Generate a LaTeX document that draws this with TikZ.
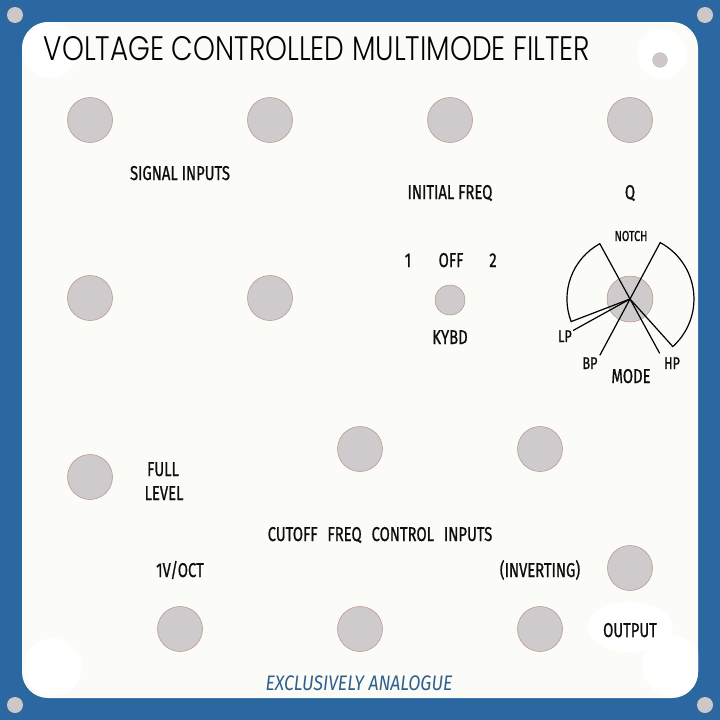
\documentclass[tikz,border=0pt]{standalone}
\usepackage{fontspec}
\newfontfamily\titlefont{Poppins Light}[FakeStretch=0.82]
\newfontfamily\lblfont{Fira Sans}[FakeStretch=0.74,FakeBold=0.8]
\newfontfamily\brandfont{Fira Sans}[FakeStretch=0.84]
\definecolor{panelblue}{HTML}{2B67A0}
\definecolor{panelbg}{HTML}{FBFCF7}
\definecolor{holegrey}{HTML}{CFCACB}
\definecolor{holeedge}{HTML}{B88E90}
\definecolor{screwgrey}{HTML}{CDC7C8}
\definecolor{brandblue}{HTML}{2F5F8C}
\begin{document}
\begin{tikzpicture}[x=1pt,y=-1pt,
  hole/.style={circle,fill=holegrey,draw=holeedge,line width=0.5pt,minimum size=45pt,inner sep=0pt},
  smallhole/.style={hole,minimum size=30pt},
  screw/.style={circle,fill=screwgrey,minimum size=16pt,inner sep=0pt},
  lbl/.style={font={\lblfont\fontsize{20}{24}\selectfont},text=black!95,anchor=base,inner sep=0pt},
  smalllbl/.style={lbl,font={\lblfont\fontsize{17}{20}\selectfont}},
  tinylbl/.style={lbl,font={\lblfont\fontsize{14.5}{18}\selectfont}},
  modeline/.style={draw=black,line width=1.2pt,line join=miter}]
\useasboundingbox (0,0) rectangle (720,720);
\fill[panelblue] (0,0) rectangle (720,720);
\fill[panelbg,rounded corners=26pt] (22,22) rectangle (698,698);
\begin{scope}
  \clip[rounded corners=26pt] (22,22) rectangle (698,698);
  \fill[white] (50,50) circle (28);
  \fill[white] (662,54) circle (25);
  \fill[white] (53,667) circle (29);
  \fill[white] (630,627) ellipse (43 and 25);
  \fill[white] (672,666) circle (30);
\end{scope}
% screws
\node[screw] (s1) at (15,15) {};
\node[screw] (s2) at (705,15) {};
\node[screw] (s3) at (15,705) {};
\node[screw] (s4) at (705,705) {};
\node[circle,fill=screwgrey,draw=holeedge!60,line width=0.3pt,minimum size=15pt,inner sep=0pt] (s5) at (660,60) {};
% title
\node[anchor=base,inner sep=0pt,font={\titlefont\fontsize{34}{40}\selectfont}] (title) at (317,60) {VOLTAGE CONTROLLED MULTIMODE FILTER};
% holes
\node[hole] (h1) at (90,120) {};
\node[hole] (h2) at (270,120) {};
\node[hole] (h3) at (450,120) {};
\node[hole] (h4) at (630,120) {};
\node[hole] (h5) at (90,298) {};
\node[hole] (h6) at (270,298) {};
\node[smallhole] (kb) at (450,300) {};
\node[hole,minimum size=46pt] (mode) at (630,299) {};
\node[hole] (h7) at (360,449) {};
\node[hole] (h8) at (540,449) {};
\node[hole] (h9) at (90,477) {};
\node[hole] (h10) at (630,568) {};
\node[hole] (h11) at (180,629) {};
\node[hole] (h12) at (360,629) {};
\node[hole] (h13) at (540,629) {};
% mode switch graphics
\coordinate (mc) at (630,299);
\coordinate (lw) at (599.8,243.7);
\coordinate (rw) at (660.2,242.6);
\coordinate (bpend) at (599.8,355.4);
\coordinate (hpend) at (659.7,353.4);
\coordinate (lpend) at (573.1,330.5);
\draw[modeline] (mc) -- (lw) arc[start angle=-118.6,end angle=-201,radius=63] -- cycle;
\draw[modeline] (mc) -- (rw) arc[start angle=-61.8,end angle=48,radius=64] -- cycle;
\draw[modeline] (mc) -- (bpend);
\draw[modeline] (mc) -- (hpend);
\draw[modeline] (mc) -- (lpend);
% labels
\node[lbl] (sig) at (180,180) {SIGNAL INPUTS};
\node[lbl] (ifreq) at (450,199) {INITIAL FREQ};
\node[lbl] (q) at (630,199) {Q};
\node[tinylbl] (notch) at (631,241) {NOTCH};
\node[lbl] (one) at (408,267) {1};
\node[lbl] (off) at (451,267) {OFF};
\node[lbl] (two) at (493,267) {2};
\node[lbl] (kybd) at (450,344) {KYBD};
\node[smalllbl] (lp) at (565,342) {LP};
\node[smalllbl] (bp) at (590,369) {BP};
\node[smalllbl] (hp) at (672,369) {HP};
\node[lbl] (model) at (631,383) {MODE};
\node[lbl] (full) at (163,476) {FULL};
\node[lbl] (level) at (164,500) {LEVEL};
\node[lbl] (cutoff) at (380,541) {CUTOFF\hspace{6pt} FREQ\hspace{6pt} CONTROL\hspace{6pt} INPUTS};
\node[lbl] (voct) at (180,577) {1V/OCT};
\node[lbl] (inv) at (540,577) {(INVERTING)};
\node[lbl] (out) at (630,637) {OUTPUT};
\node[anchor=base,inner sep=0pt,text=brandblue,font={\brandfont\itshape\fontsize{21}{24}\selectfont}] (excl) at (359,690) {EXCLUSIVELY ANALOGUE};
\end{tikzpicture}
\end{document}
